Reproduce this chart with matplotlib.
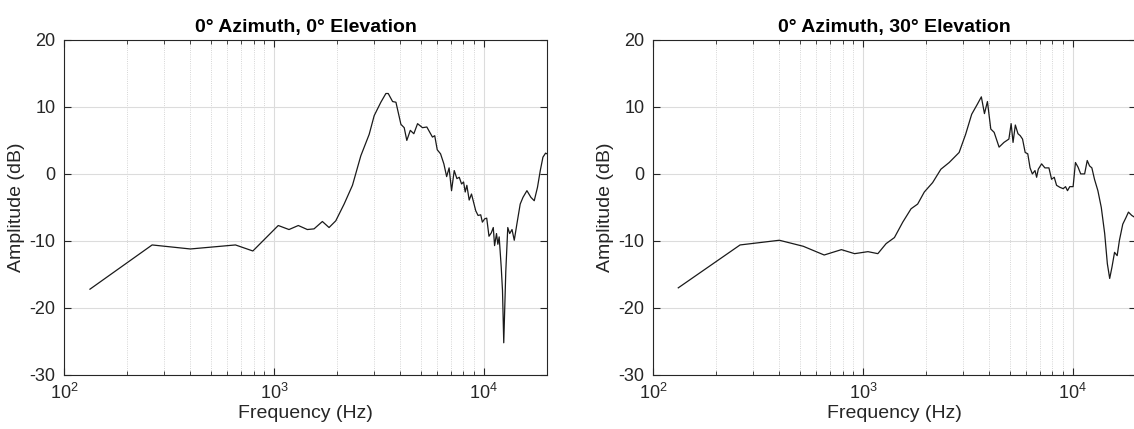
import numpy as np
import matplotlib
matplotlib.use("Agg")
import matplotlib.pyplot as plt
from matplotlib.ticker import LogLocator, NullFormatter

plt.rcParams['font.family'] = ['Liberation Sans', 'DejaVu Sans']
plt.rcParams['axes.unicode_minus'] = False
plt.rcParams['mathtext.fontset'] = 'custom'
plt.rcParams['mathtext.rm'] = 'Liberation Sans'

# 0 deg azimuth, 0 deg elevation
freq_el0 = [133, 263, 400, 656, 794, 1049, 1180, 1307, 1443, 1553, 1702, 1831,
            1971, 2160, 2367, 2594, 2843, 3004, 3232, 3415, 3504, 3676, 3813,
            4027, 4175, 4296, 4464, 4640, 4834, 5102, 5351, 5691, 5835, 5999,
            6220, 6450, 6650, 6832, 7017, 7227, 7442, 7636, 7833, 8006, 8152,
            8300, 8515, 8733, 9150, 9386, 9663, 9840, 10095, 10320, 10580,
            10850, 11090, 11250, 11490, 11660, 11830, 12100, 12270, 12440,
            12720, 13000, 13280, 13620, 13960, 14380, 14900, 15360, 16040,
            16760, 17380, 18010, 18570, 19120, 19680, 20000]
amp_el0 = [-17.2, -10.6, -11.2, -10.6, -11.5, -7.7, -8.3, -7.7, -8.3, -8.2,
           -7.1, -8.0, -7.0, -4.5, -1.7, 2.7, 5.9, 8.7, 10.7, 12.0, 12.0, 10.8,
           10.7, 7.4, 6.9, 5.0, 6.5, 6.0, 7.5, 6.9, 7.0, 5.5, 5.7, 3.6, 3.0,
           1.5, -0.4, 0.9, -2.5, 0.5, -0.7, -0.5, -1.5, -1.2, -2.7, -1.7, -3.9,
           -3.0, -5.5, -6.2, -6.1, -7.2, -6.7, -6.6, -9.3, -8.8, -8.0, -10.7,
           -8.9, -10.5, -9.4, -13.9, -17.4, -25.2, -14.6, -8.0, -8.9, -8.3,
           -9.9, -7.4, -4.5, -3.5, -2.5, -3.5, -4.0, -2.0, 0.5, 2.5, 3.1, 3.0]

# 0 deg azimuth, 30 deg elevation
freq_el30 = [132, 260, 400, 520, 654, 790, 913, 1057, 1178, 1290, 1413, 1548,
             1696, 1823, 1961, 2148, 2352, 2576, 2873, 3085, 3297, 3509, 3666,
             3793, 3919, 4066, 4219, 4453, 4697, 4958, 5083, 5190, 5322, 5478,
             5617, 5760, 5929, 6100, 6255, 6415, 6603, 6722, 6845, 7099, 7362,
             7693, 7920, 8154, 8365, 8675, 8997, 9230, 9430, 9670, 10030,
             10290, 10590, 10900, 11380, 11710, 12010, 12320, 12680, 13160,
             13660, 14180, 14600, 14980, 15360, 15800, 16260, 16670, 17290,
             17920, 18400, 19090, 20000]
amp_el30 = [-17.0, -10.6, -9.9, -10.8, -12.1, -11.3, -11.9, -11.6, -11.9,
            -10.4, -9.5, -7.2, -5.2, -4.5, -2.7, -1.3, 0.7, 1.7, 3.2, 5.9, 8.9,
            10.4, 11.5, 9.0, 10.8, 6.7, 6.2, 4.0, 4.7, 5.2, 7.5, 4.7, 7.3, 6.0,
            5.7, 5.2, 3.2, 3.0, 0.9, 0.0, 0.5, -0.5, 0.7, 1.5, 0.9, 0.9, -0.8,
            -0.5, -1.7, -2.0, -2.2, -1.9, -2.5, -1.9, -1.9, 1.7, 1.0, 0.0, 0.0,
            2.0, 1.2, 0.9, -0.8, -2.5, -5.0, -8.9, -13.4, -15.6, -13.9, -11.7,
            -12.2, -9.9, -7.5, -6.5, -5.7, -6.2, -6.6]

titles = ["0° Azimuth, 0° Elevation", "0° Azimuth, 30° Elevation"]
yticks = [-30, -20, -10, 0, 10, 20]

fig = plt.figure(figsize=(11.34, 4.29), dpi=100)
ax1 = fig.add_axes([0.0564, 0.126, 0.426, 0.781])
ax2 = fig.add_axes([0.5758, 0.126, 0.426, 0.781])

for ax, f, a, t in zip([ax1, ax2], [freq_el0, freq_el30], [amp_el0, amp_el30], titles):
    ax.semilogx(f, a, color='#1a1a1a', linewidth=0.9)
    ax.set_xlim(100, 20000)
    ax.set_ylim(-30, 20)
    ax.set_yticks(yticks)
    ax.xaxis.set_major_locator(LogLocator(base=10, numticks=10))
    ax.xaxis.set_minor_locator(LogLocator(base=10, subs=np.arange(2, 10), numticks=20))
    ax.xaxis.set_minor_formatter(NullFormatter())
    ax.grid(True, which='major', color='#dcdcdc', linewidth=0.8, linestyle='-')
    ax.grid(True, which='minor', axis='x', color='#c8c8c8', linewidth=0.6, linestyle=':')
    ax.set_axisbelow(True)
    ax.tick_params(which='both', direction='in', top=True, right=True,
                   labelsize=13, colors='#262626', pad=6)
    ax.tick_params(which='major', length=5)
    ax.tick_params(which='minor', length=3)
    for s in ax.spines.values():
        s.set_color('#262626')
        s.set_linewidth(0.8)
    ax.set_xlabel('Frequency (Hz)', fontsize=14, color='#262626', labelpad=1)
    ax.set_ylabel('Amplitude (dB)', fontsize=14, color='#262626', labelpad=3)
    ax.set_title(t, fontsize=14, fontweight='bold', pad=6)

fig.savefig('out.png', dpi=100, facecolor='white')
